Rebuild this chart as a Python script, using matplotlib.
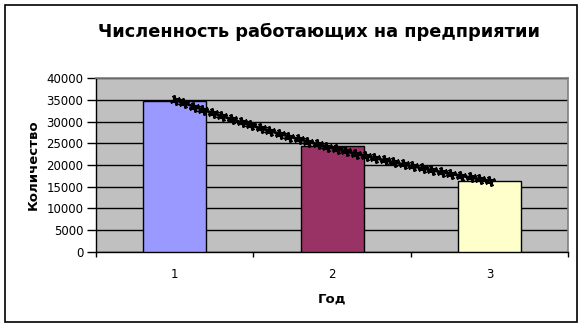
import matplotlib
import numpy as np

matplotlib.use("Agg")
import matplotlib.pyplot as plt
from matplotlib.patches import Rectangle

plt.rcParams.update({"font.family": "DejaVu Sans"})

years = [1, 2, 3]
workers = [34800, 24300, 16200]
bar_colors = ["#9999FF", "#993366", "#FFFFCC"]
title = "Численность работающих на предприятии"

fig = plt.figure(figsize=(5.83, 3.26), dpi=100)
fig.patches.append(Rectangle((0.0086, 0.013), 0.9806, 0.9715, transform=fig.transFigure,
                             fill=False, ec="black", lw=1.2))
ax = fig.add_axes([0.1647, 0.2285, 0.9748 - 0.1647, 0.7598 - 0.2285])
ax.set_facecolor("#C0C0C0")
ax.set_axisbelow(True)

ax.bar(years, workers, width=0.4, color=bar_colors, edgecolor="black", lw=1, zorder=3)

# exponential trend line fitted to the bars
k, b = np.polyfit(years, np.log(workers), 1)
xt = np.linspace(years[0], years[-1], 34)
ax.plot(xt, np.exp(b + k * xt), color="black", lw=2, marker=(4, 2, 20), ms=7.5, mew=2.2,
        zorder=4)

ax.set_xlim(0.5, 3.5)
ax.set_ylim(0, 40000)
ax.set_yticks(range(0, 40001, 5000))
ax.yaxis.grid(True, color="black", lw=1)
ax.tick_params(axis="y", direction="out", length=6.5, width=1, pad=2.5, labelsize=8.5)
ax.set_xticks(years)
ax.set_xticks([0.5, 1.5, 2.5, 3.5], minor=True)
ax.tick_params(axis="x", which="major", length=0, pad=12, labelsize=8.5)
ax.tick_params(axis="x", which="minor", direction="out", length=3.5, width=1)
for side in ("top", "right"):
    ax.spines[side].set_color("#808080")
    ax.spines[side].set_linewidth(1.2)
for side in ("left", "bottom"):
    ax.spines[side].set_color("black")
    ax.spines[side].set_linewidth(1)

ax.set_xlabel("Год", fontsize=9.5, weight="bold", labelpad=8)
ax.set_ylabel("Количество", fontsize=9.5, weight="bold", labelpad=5)
fig.text(0.547, 0.902, title, ha="center", va="center", fontsize=12.8, weight="bold")

fig.savefig("out.png", dpi=100)
